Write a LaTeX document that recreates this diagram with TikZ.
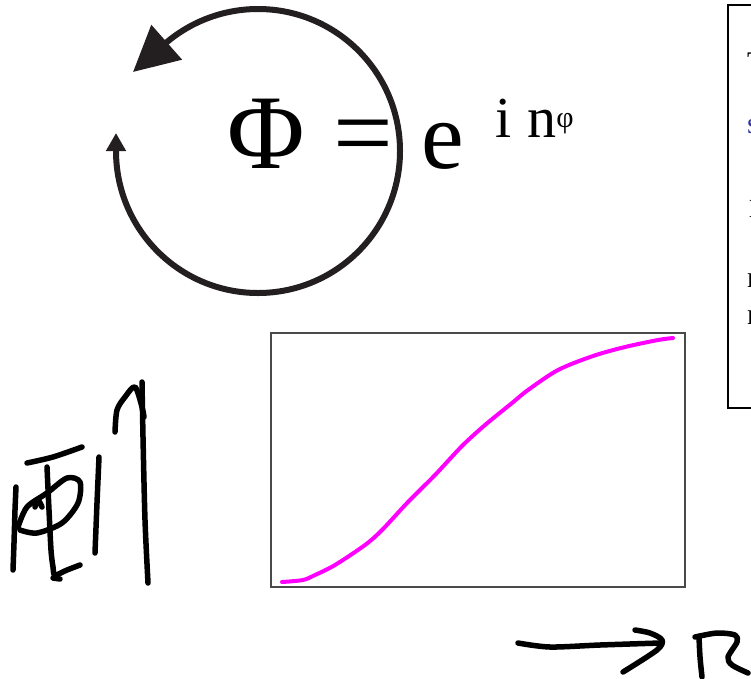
\documentclass[tikz,border=0pt]{standalone}
\usepackage{fontspec}
\setmainfont{Liberation Serif}
\usepackage{tikz}
\usetikzlibrary{arrows.meta}
\definecolor{ink}{HTML}{231F20}
\definecolor{curvepink}{HTML}{FF00FF}
\definecolor{framegray}{HTML}{4A4A4A}
\definecolor{noteblue}{HTML}{3030A0}
\tikzset{
  ring/.style={draw=ink,line width=6pt},
  pen/.style={draw=black,line width=5.5pt,line cap=round,line join=round},
  plotframe/.style={draw=framegray,line width=1.6pt},
  curve/.style={draw=curvepink,line width=4pt,line cap=round,line join=round},
  panel/.style={draw=black,line width=2.5pt},
  bigmath/.style={anchor=base west,inner sep=0pt,font=\fontsize{106}{106}\selectfont},
  panelnote/.style={anchor=base west,inner sep=0pt,font=\fontsize{30}{30}\selectfont}
}

\begin{document}
\begin{tikzpicture}[x=1pt,y=-1pt]
\useasboundingbox (0,0) rectangle (751,678);
\clip (0,0) rectangle (751,678);

% phase ring with the formula
\coordinate (ringstart) at (116,133);
\coordinate (ringleft) at (116,151);
\coordinate (ringtip) at (133,72);
\draw[ring,{Triangle[length=18pt,width=19pt]}-{Triangle[length=45pt,width=45pt]}]
  (ringstart) -- (ringleft) arc[start angle=180,end angle=-130,radius=142] -- (ringtip);
\node[bigmath] (phi) at (227,168) {Φ};
\node[bigmath] (eq) at (333,168) {=};
\node[bigmath,font=\fontsize{96}{96}\selectfont] (expo) at (421,168) {e};
\node[anchor=base west,inner sep=0pt,font=\fontsize{58}{58}\selectfont] (power) at (495,137)
  {i\hspace{16pt}n\raisebox{10pt}{\fontsize{30}{30}\selectfont φ}};

% side panel, cut by the edge
\draw[panel] (728,5) rectangle (780,408);
\node[panelnote] (pa) at (747,72) {T};
\node[panelnote,text=noteblue] (pb) at (747,133) {s};
\node[panelnote] (pc) at (747,217) {1};
\node[panelnote] (pd) at (747,287) {n};
\node[panelnote] (pe) at (747,324) {n};

% plot
\draw[plotframe] (271,333) rectangle (685,587);
\draw[curve] plot[smooth,tension=0.5] coordinates {
  (282,582) (303,580) (315,575) (335,565) (365,545) (382,530) (408,502)
  (435,475) (462,446) (485,425) (512,403) (528,390) (558,370) (593,356)
  (625,347) (658,340) (673,338)};

% handwriting, left
\draw[pen] plot[smooth] coordinates {(16,487) (15,510) (14,543) (13,570)};
\draw[pen] plot[smooth] coordinates {(27,463) (53,457) (82,447)};
\draw[pen] plot[smooth] coordinates {(47,467) (49,510) (51,550) (53,567) (55,575) (67,570) (80,565)};
\draw[pen] plot[smooth] coordinates {(53,578) (60,579)};
\draw[pen] plot[smooth] coordinates {(18,527) (27,507) (47,493) (67,478) (80,482) (78,503) (62,523) (37,533) (20,530)};
\draw[pen] plot[smooth] coordinates {(35,507) (38,500) (42,507)};
\draw[pen] plot[smooth] coordinates {(99,457) (97,503) (95,553)};
\draw[pen] plot[smooth] coordinates {(142,382) (143,437) (145,520) (148,583)};
\draw[pen] plot[smooth] coordinates {(115,432) (117,410) (125,397) (135,387) (142,407) (144,417)};

% handwriting, bottom
\draw[pen] plot[smooth] coordinates {(518,643) (550,647) (600,645) (660,643)};
\draw[pen] plot[smooth] coordinates {(635,630) (650,633) (662,640) (657,650) (623,672)};
\draw[pen] plot[smooth] coordinates {(699,637) (700,657) (702,677)};
\draw[pen] plot[smooth] coordinates {(695,637) (717,633) (735,635) (737,642) (728,657) (732,665) (748,673)};
\end{tikzpicture}
\end{document}
